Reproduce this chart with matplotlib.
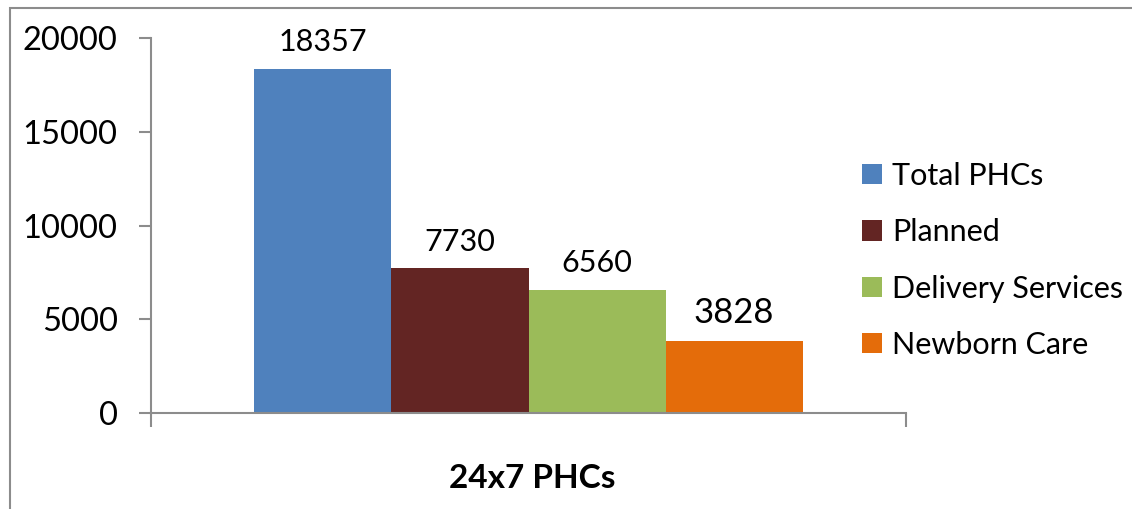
import matplotlib
matplotlib.use("Agg")
import matplotlib.pyplot as plt
from matplotlib.patches import Rectangle

plt.rcParams['font.family'] = ['Lato', 'DejaVu Sans']

series = ["Total PHCs", "Planned", "Delivery Services", "Newborn Care"]
values = [18357, 7730, 6560, 3828]
colors = ["#4f81bd", "#632523", "#9bbb59", "#e46c0a"]
category = "24x7 PHCs"
yticks = [0, 5000, 10000, 15000, 20000]

fig = plt.figure(figsize=(11.32, 5.09), dpi=100)
ax = fig.add_axes([151 / 1132, 1 - 413 / 509, 755 / 1132, 375 / 509])

# outer chart border (top/left visible)
fig.patches.append(Rectangle((10 / 1132, -0.1), 1.2, 1 - 8 / 509 + 0.1,
                             transform=fig.transFigure, fill=False,
                             edgecolor="#8c8c8c", linewidth=1.5))

width = 0.1815
n = len(values)
for i, (name, v, c) in enumerate(zip(series, values, colors)):
    x = (i - (n - 1) / 2) * width
    ax.bar(x, v, width=width, color=c, label=name)
    fs = 25 if v < 5000 else 22
    ax.annotate(str(v), (x, v), xytext=(0, 9), textcoords="offset points",
                ha="center", va="bottom", fontsize=fs)

ax.set_xlim(-0.5, 0.5)
ax.set_ylim(0, 20000)
ax.set_yticks(yticks)
ax.set_yticklabels([str(t) for t in yticks], fontsize=23.5)
ax.set_xticks([-0.5, 0.5])
ax.set_xticklabels([])
ax.tick_params(axis="y", length=9, width=1.5, color="#8c8c8c", pad=15)
ax.tick_params(axis="x", length=10, width=1.5, color="#8c8c8c")
for s in ["top", "right"]:
    ax.spines[s].set_visible(False)
for s in ["left", "bottom"]:
    ax.spines[s].set_color("#8c8c8c")
    ax.spines[s].set_linewidth(1.5)

fig.text(532 / 1132, 1 - 478 / 509, category, ha="center", va="center",
         fontsize=24, fontweight="bold")

fig.legend(loc="center left", bbox_to_anchor=(862 / 1132, 1 - 260.5 / 509),
           frameon=False, fontsize=22, handlelength=0.64, handleheight=0.64,
           handletextpad=0.35, labelspacing=0.93, borderpad=0, borderaxespad=0)

fig.savefig("out.png", dpi=100)
